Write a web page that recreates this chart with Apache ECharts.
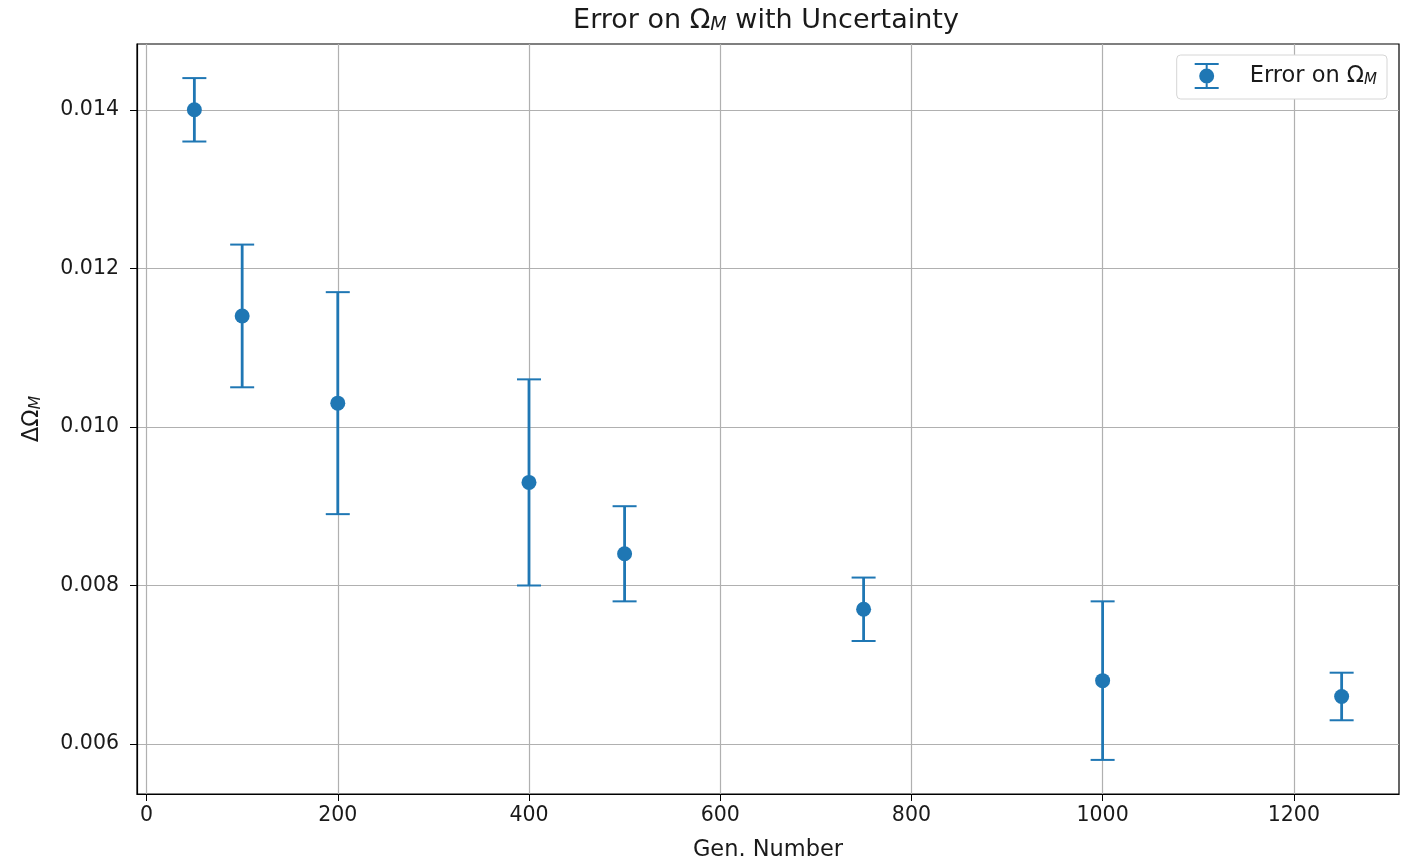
<!DOCTYPE html>
<html>
<head>
<meta charset="utf-8">
<script src="https://cdn.jsdelivr.net/npm/echarts@6/dist/echarts.min.js"></script>
<style>
  html, body { margin: 0; padding: 0; background: #fff; }
  #chart { width: 1412px; height: 867px; }
</style>
</head>
<body>
<div id="chart"></div>
<script>
// data
const genNumbers = [50, 100, 200, 400, 500, 750, 1000, 1250];
const errorValues = [0.0140, 0.0114, 0.0103, 0.0093, 0.0084, 0.0077, 0.0068, 0.0066];
const uncertainties = [0.0004, 0.0009, 0.0014, 0.0013, 0.0006, 0.0004, 0.0010, 0.0003];
const xTicks = [0, 200, 400, 600, 800, 1000, 1200];
const yTicks = [0.006, 0.008, 0.010, 0.012, 0.014];

const blue = '#1f77b4';
const font = 'DejaVu Sans';
const textColor = '#1a1a1a';

const rows = genNumbers.map((x, i) => [x, errorValues[i], errorValues[i] - uncertainties[i], errorValues[i] + uncertainties[i]]);

function sub(size, drop) {
  return { fontFamily: font, fontStyle: 'italic', fontSize: size, color: textColor, verticalAlign: 'bottom', padding: [drop, 0, 0, 0] };
}

function renderErrorBar(params, api) {
  const x = api.value(0);
  const c = api.coord([x, api.value(1)]);
  const lo = api.coord([x, api.value(2)]);
  const hi = api.coord([x, api.value(3)]);
  const cap = 12;
  return {
    type: 'group',
    children: [
      { type: 'line', shape: { x1: lo[0], y1: lo[1], x2: hi[0], y2: hi[1] }, style: { stroke: blue, lineWidth: 2.8 } },
      { type: 'line', shape: { x1: hi[0] - cap, y1: hi[1], x2: hi[0] + cap, y2: hi[1] }, style: { stroke: blue, lineWidth: 2 } },
      { type: 'line', shape: { x1: lo[0] - cap, y1: lo[1], x2: lo[0] + cap, y2: lo[1] }, style: { stroke: blue, lineWidth: 2 } },
      { type: 'circle', shape: { cx: c[0], cy: c[1], r: 7.5 }, style: { fill: blue } }
    ]
  };
}

const chart = echarts.init(document.getElementById('chart'));
chart.setOption({
  animation: false,
  backgroundColor: '#fff',
  title: {
    text: 'Error on Ω{sub|M} with Uncertainty',
    left: 761,
    top: 1,
    textAlign: 'center',
    textStyle: {
      fontFamily: font, fontSize: 27, fontWeight: 'normal', color: textColor,
      rich: { sub: sub(19, 10) }
    }
  },
  legend: {
    right: 25,
    top: 55,
    padding: [8, 10, 10, 18],
    itemWidth: 24,
    itemHeight: 26,
    borderColor: '#d6d6d6',
    borderWidth: 1,
    borderRadius: 4,
    backgroundColor: '#fff',
    icon: 'path://M0,0H24V2H0Z M11,0H13V26H11Z M0,24H24V26H0Z M12,5.5A7.5,7.5 0 1 1 12,20.5A7.5,7.5 0 1 1 12,5.5Z',
    formatter: () => 'Error on Ω{sub|M}',
    textStyle: {
      fontFamily: font, fontSize: 22.5, color: textColor, padding: [0, 0, 0, 26],
      rich: { sub: sub(15, 8) }
    },
    data: ['Error']
  },
  grid: {
    left: 137, right: 13, top: 44, bottom: 71,
    show: true, borderColor: '#000', borderWidth: 1.2
  },
  xAxis: {
    type: 'value',
    min: -10,
    max: 1310,
    name: 'Gen. Number',
    nameLocation: 'middle',
    nameGap: 45,
    nameTextStyle: { fontFamily: font, fontSize: 22.5, color: textColor },
    axisLine: { show: true, onZero: false, lineStyle: { color: '#000', width: 1.2 } },
    axisTick: { show: true, length: 7, customValues: xTicks, lineStyle: { color: '#000' } },
    axisLabel: {
      customValues: xTicks, fontFamily: font, fontSize: 20.5, color: textColor, margin: 11,
      formatter: v => String(v)
    },
    splitLine: { show: true, lineStyle: { color: '#b0b0b0', width: 1.2 } }
  },
  yAxis: {
    type: 'value',
    min: 0.00537,
    max: 0.01483,
    name: 'ΔΩ{sub|M}',
    nameLocation: 'middle',
    nameGap: 93,
    nameRotate: 90,
    nameTextStyle: {
      fontFamily: font, fontSize: 22.5, color: textColor,
      rich: { sub: sub(16, 8) }
    },
    axisLine: { show: true, onZero: false, lineStyle: { color: '#000', width: 1.2 } },
    axisTick: { show: true, length: 7, customValues: yTicks, lineStyle: { color: '#000' } },
    axisLabel: {
      customValues: yTicks, fontFamily: font, fontSize: 20.5, color: textColor, margin: 18,
      formatter: v => v.toFixed(3)
    },
    splitLine: { show: true, lineStyle: { color: '#b0b0b0', width: 1.2 } }
  },
  series: [{
    name: 'Error',
    type: 'custom',
    color: blue,
    renderItem: renderErrorBar,
    encode: { x: 0, y: [1, 2, 3] },
    data: rows
  }]
});
</script>
</body>
</html>
